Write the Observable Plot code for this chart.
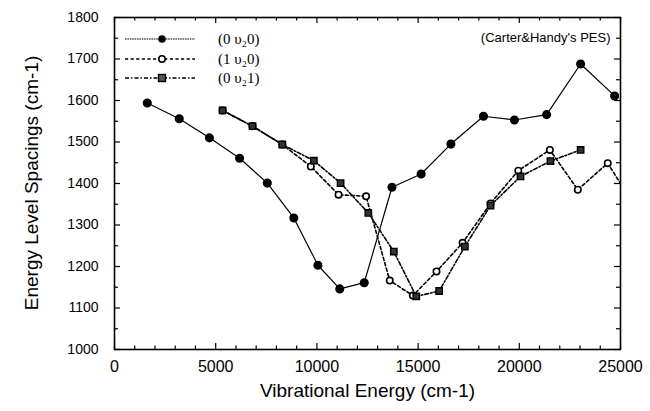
<!DOCTYPE html>
<html><head><meta charset="utf-8">
<script src="https://cdn.jsdelivr.net/npm/d3@7"></script>
<script src="https://cdn.jsdelivr.net/npm/@observablehq/plot@0.6"></script>
<style>body{margin:0;background:#fff} svg{display:block}</style>
</head><body><div id="chart"></div>
<script>
// (0 v2 0) series
const s1x = [1620, 3200, 4690, 6180, 7550, 8860, 10050, 11130, 12340, 13710, 15150, 16620, 18230, 19760, 21350, 23030, 24710];
const s1y = [1594, 1556, 1510, 1461, 1401, 1317, 1203, 1146, 1161, 1391, 1423, 1495, 1562, 1553, 1566, 1688, 1611];
// (1 v2 0) series (last point lies beyond the axis and is clipped)
const s2x = [5340, 6820, 8290, 9700, 11070, 12430, 13600, 14740, 15910, 17200, 18580, 19950, 21510, 22890, 24370, 25600];
const s2y = [1576, 1538, 1494, 1441, 1373, 1369, 1166, 1130, 1188, 1257, 1352, 1431, 1481, 1385, 1449, 1353];
// (0 v2 1) series
const s3x = [5340, 6820, 8290, 9850, 11170, 12540, 13800, 14910, 16040, 17310, 18580, 20060, 21540, 23030];
const s3y = [1576, 1538, 1494, 1455, 1401, 1329, 1236, 1128, 1141, 1248, 1347, 1417, 1454, 1481];

const seriesNames = ["(0 υ₂0)", "(1 υ₂0)", "(0 υ₂1)"];
const xTicks = [0, 5000, 10000, 15000, 20000, 25000];
const xMinor = [1000, 2000, 3000, 4000, 6000, 7000, 8000, 9000, 11000, 12000, 13000, 14000, 16000, 17000, 18000, 19000, 21000, 22000, 23000, 24000];
const yTicks = [1000, 1100, 1200, 1300, 1400, 1500, 1600, 1700, 1800];
const yMinor = [1050, 1150, 1250, 1350, 1450, 1550, 1650, 1750];
const xTitle = "Vibrational Energy (cm-1)";
const yTitle = "Energy Level Spacings (cm-1)";
const note = "(Carter&Handy's PES)";

const W = 650, H = 411, mL = 114, mR = 30, mT = 17, mB = 62;
const iW = W - mL - mR, iH = H - mT - mB;

const d1 = s1x.map((x, i) => ({x, y: s1y[i]}));
const d2 = s2x.map((x, i) => ({x, y: s2y[i]}));
const d3d = s3x.map((x, i) => ({x, y: s3y[i]}));

const dash2 = "3.2,2.4";
const dash3 = "4,2,1.5,2";

const plot = Plot.plot({
  width: W, height: H,
  marginLeft: mL, marginRight: mR, marginTop: mT, marginBottom: mB,
  x: {domain: [0, 25000]},
  y: {domain: [1000, 1800]},
  style: {fontFamily: "'Liberation Sans', Arial, sans-serif", color: "black", background: "white"},
  marks: [
    // ticks pointing inward
    Plot.tickX(xTicks, {x: d => d, insetTop: iH - 6, stroke: "black", strokeWidth: 1.2}),
    Plot.tickX(xMinor, {x: d => d, insetTop: iH - 3.5, stroke: "black", strokeWidth: 1.2}),
    Plot.tickX(xTicks, {x: d => d, insetBottom: iH - 6, stroke: "black", strokeWidth: 1.2}),
    Plot.tickX(xMinor, {x: d => d, insetBottom: iH - 3.5, stroke: "black", strokeWidth: 1.2}),
    Plot.tickY(yTicks, {y: d => d, insetRight: iW - 6, stroke: "black", strokeWidth: 1.2}),
    Plot.tickY(yMinor, {y: d => d, insetRight: iW - 4, stroke: "black", strokeWidth: 1.2}),
    Plot.tickY(yTicks, {y: d => d, insetLeft: iW - 6, stroke: "black", strokeWidth: 1.2}),
    Plot.tickY(yMinor, {y: d => d, insetLeft: iW - 4, stroke: "black", strokeWidth: 1.2}),
    Plot.axisX({ticks: xTicks, tickSize: 0, tickPadding: 11, tickFormat: d => String(d), fontSize: 16, label: null}),
    Plot.axisY({ticks: yTicks, tickSize: 0, tickPadding: 16, tickFormat: d => String(d), fontSize: 14, label: null}),
    Plot.text([xTitle], {frameAnchor: "bottom", dy: 47, fontSize: 19, text: d => d}),
    Plot.text([note], {frameAnchor: "top-right", dx: -10, dy: 15, fontSize: 13, text: d => d, textAnchor: "end"}),
    // series
    Plot.line(d1, {x: "x", y: "y", stroke: "black", strokeWidth: 1.2, clip: true}),
    Plot.line(d2, {x: "x", y: "y", stroke: "black", strokeWidth: 1.6, strokeDasharray: dash2, clip: true}),
    Plot.line(d3d, {x: "x", y: "y", stroke: "black", strokeWidth: 1.6, strokeDasharray: dash3, clip: true}),
    Plot.dot(d1, {x: "x", y: "y", r: 3.8, fill: "black", stroke: "black", clip: true}),
    Plot.dot(d2, {x: "x", y: "y", r: 3.2, fill: "white", stroke: "black", strokeWidth: 1.6, clip: true}),
    Plot.dot(d3d, {x: "x", y: "y", r: 3.6, symbol: "square", fill: "#333", stroke: "black", strokeWidth: 1.4, clip: true}),
    Plot.frame({stroke: "black", strokeWidth: 1.6})
  ]
});

const svg = d3.select(plot);
// rotated y-axis title
svg.append("text")
  .attr("transform", `translate(31,${mT + iH / 2}) rotate(-90)`)
  .attr("text-anchor", "middle").attr("dy", "0.35em")
  .attr("font-size", 19).attr("fill", "black")
  .text(yTitle);

// legend inside the frame (top-left)
const rows = [39, 59, 78];
const styles = [
  {dash: "1.6,0.8", w: 1.2, sym: "fcircle"},
  {dash: dash2, w: 1.6, sym: "ocircle"},
  {dash: dash3, w: 1.6, sym: "square"}
];
const lg = svg.append("g");
rows.forEach((yy, i) => {
  const st = styles[i];
  lg.append("line").attr("x1", 125).attr("x2", 195).attr("y1", yy).attr("y2", yy)
    .attr("stroke", "black").attr("stroke-width", st.w).attr("stroke-dasharray", st.dash);
  if (st.sym === "fcircle") lg.append("circle").attr("cx", 162).attr("cy", yy).attr("r", 3.8).attr("fill", "black");
  if (st.sym === "ocircle") lg.append("circle").attr("cx", 162).attr("cy", yy).attr("r", 3.2).attr("fill", "white").attr("stroke", "black").attr("stroke-width", 1.6);
  if (st.sym === "square") lg.append("rect").attr("x", 158.5).attr("y", yy - 3.5).attr("width", 7).attr("height", 7).attr("fill", "#555").attr("stroke", "black").attr("stroke-width", 1.4);
  lg.append("text").attr("x", 218).attr("y", yy).attr("dy", "0.35em")
    .attr("text-anchor", "start")
    .attr("font-family", "'Liberation Serif', 'DejaVu Serif', serif").attr("font-size", 15)
    .text(seriesNames[i]);
});

document.getElementById("chart").appendChild(plot);
</script>
</body></html>
